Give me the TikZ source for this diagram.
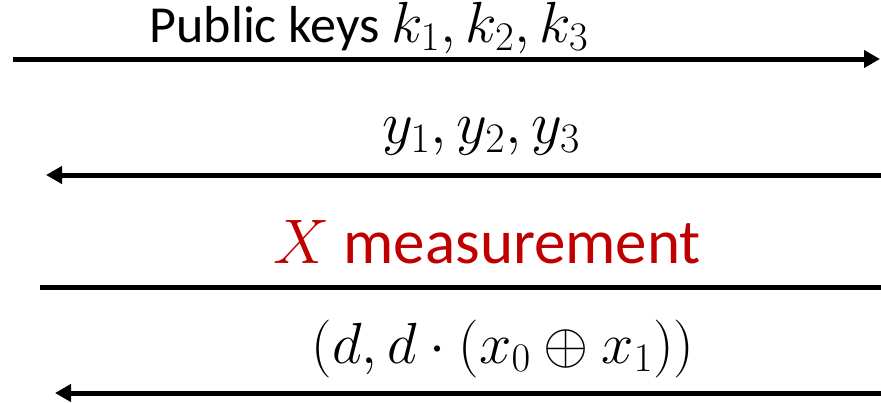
\documentclass[tikz,border=0pt]{standalone}
\usepackage{fix-cm}
\usepackage[no-math]{fontspec}
\setmainfont{Carlito}
\usetikzlibrary{arrows.meta}
\definecolor{measred}{HTML}{C00000}
\newcommand{\mathsz}{\fontsize{58}{64}\selectfont}

\begin{document}
\begin{tikzpicture}[x=1pt,y=-1pt,
  msg/.style={line width=5pt},
  tip/.style={-{Triangle[length=16pt,width=17pt]}},
  lbl/.style={anchor=base,inner sep=0pt,font=\fontsize{52}{60}\selectfont}]
  \useasboundingbox (0,0) rectangle (881,402);
  % ends of the four lines
  \coordinate (keys-from) at (13,59);
  \coordinate (keys-to) at (880,59);
  \coordinate (ys-from) at (881,175);
  \coordinate (ys-to) at (46,175);
  \coordinate (meas-from) at (40,287);
  \coordinate (meas-to) at (881,287);
  \coordinate (d-from) at (881,393);
  \coordinate (d-to) at (55,393);
  % lines
  \draw[msg,tip] (keys-from) -- (keys-to);
  \draw[msg,tip] (ys-from) -- (ys-to);
  \draw[msg] (meas-from) -- (meas-to);
  \draw[msg,tip] (d-from) -- (d-to);
  % labels
  \node[lbl] (keys) at (369,42) {Public keys {\mathsz$k_1, k_2, k_3$}};
  \node[lbl,font=\fontsize{60}{66}\selectfont] (ys) at (481,143) {$y_1, y_2, y_3$};
  \node[lbl,text=measred,font=\fontsize{63}{70}\selectfont] (meas) at (487,263) {$X$ measurement};
  \node[lbl,font=\mathsz] (dpair) at (503,363) {$(d, d\cdot(x_0 \oplus x_1))$};
\end{tikzpicture}
\end{document}
